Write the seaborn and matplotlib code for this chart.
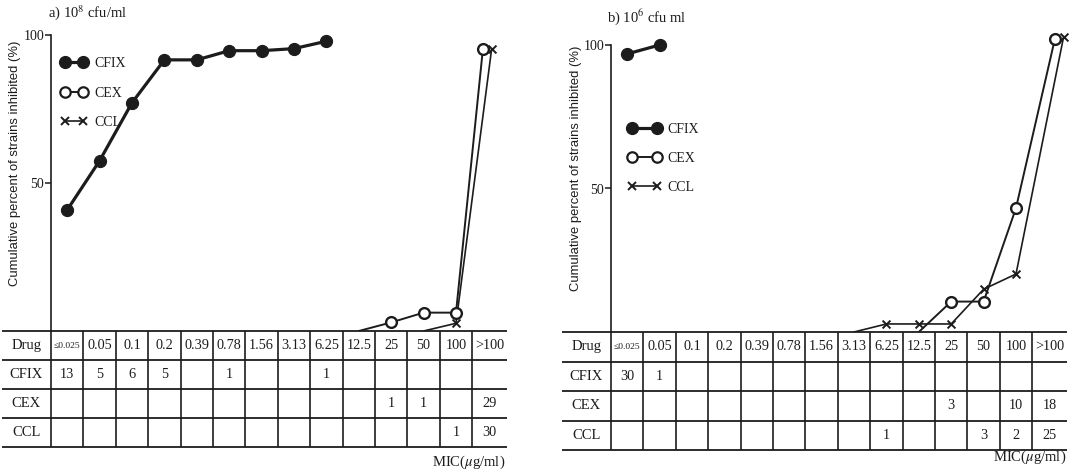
import numpy as np
import pandas as pd
import seaborn as sns
import matplotlib.pyplot as plt
from matplotlib.lines import Line2D

sns.set_style("white")
plt.rcParams['font.family'] = ['Liberation Serif', 'DejaVu Serif']
plt.rcParams['mathtext.fontset'] = 'stix'

INK = '#1c1c1c'
W, H = 1078, 472

mic = ["≤0.025", "0.05", "0.1", "0.2", "0.39", "0.78", "1.56", "3.13",
       "6.25", "12.5", "25", "50", "100", ">100"]
drugs = ["CFIX", "CEX", "CCL"]

# a) 10^8 cfu/ml : cumulative % (x = MIC column index)
a_cfix_x = [0, 1, 2, 3, 4, 5, 6, 7, 8]
a_cfix_y = [40.9, 57.5, 77.1, 91.6, 91.6, 94.7, 94.7, 95.4, 97.9]
a_cex_x = [9, 10, 11, 12, 13]
a_cex_y = [0, 2.9, 6.2, 6.2, 95.3]
a_ccl_x = [11, 12, 13]
a_ccl_y = [0, 2.6, 95.3]
# number of strains per MIC
a_cfix_n = [13, 5, 6, 5, None, 1, None, None, 1, None, None, None, None, None]
a_cex_n = [None] * 10 + [1, 1, None, 29]
a_ccl_n = [None] * 12 + [1, 30]

# b) 10^6 cfu/ml
b_cfix_x = [0, 1]
b_cfix_y = [96.9, 100]
b_cex_x = [9, 10, 11, 12, 13]
b_cex_y = [0, 10.6, 10.6, 43.2, 102.1]
b_ccl_x = [7, 8, 9, 10, 11, 12, 13]
b_ccl_y = [0, 2.8, 2.8, 2.8, 14.9, 20.2, 102.9]
b_cfix_n = [30, 1] + [None] * 12
b_cex_n = [None] * 10 + [3, None, 10, 18]
b_ccl_n = [None] * 8 + [1, None, None, 3, 2, 25]

XLIM = (-2.012, 13.574)


def fx(p):
    return p / W


def fy(p):
    return 1 - p / H


def draw_panel(fig, xl, xr, y0, ppp, tb_bot, series, counts, nudge, leg):
    ytop = y0 - 105 * ppp
    ax = fig.add_axes([fx(xl), fy(y0), (xr - xl) / W, (y0 - ytop) / H])
    ax.set_xlim(*XLIM)
    ax.set_ylim(0, 105)
    ax.patch.set_alpha(0)

    styles = {
        'CFIX': dict(lw=2.3, m='o', s=76, fc=INK, ew=0.8),
        'CEX': dict(lw=1.4, m='o', s=60, fc='white', ew=1.7),
        'CCL': dict(lw=1.2, m='x', s=32, fc=INK, ew=1.4),
    }
    for name, (xs, ys) in zip(drugs, series):
        xs = list(xs)
        xs[-1] = xs[-1] + nudge.get(name, 0) if xs[-1] == 13 else xs[-1]
        st = styles[name]
        df = pd.DataFrame({'x': xs, 'y': ys})
        sns.lineplot(data=df, x='x', y='y', ax=ax, color=INK, lw=st['lw'],
                     sort=False, errorbar=None, zorder=2)
        pts = df if name == 'CFIX' else df.iloc[1:]
        if st['m'] == 'x':
            sns.scatterplot(data=pts, x='x', y='y', ax=ax, marker='x', s=st['s'],
                            color=INK, linewidth=st['ew'], zorder=3, clip_on=False)
        else:
            sns.scatterplot(data=pts, x='x', y='y', ax=ax, marker='o', s=st['s'],
                            color=st['fc'], edgecolor=INK, linewidth=st['ew'],
                            zorder=3, clip_on=False)

    for s in ['top', 'right', 'bottom']:
        ax.spines[s].set_visible(False)
    ax.spines['left'].set_position(('data', -0.5))
    ax.spines['left'].set_bounds(0, 100)
    ax.spines['left'].set_color(INK)
    ax.spines['left'].set_linewidth(1.2)
    ax.set_xticks([])
    ax.set_yticks([50, 100])
    ax.set_yticklabels(['50', '100'])
    ax.tick_params(axis='y', direction='out', length=4, width=1.1, color=INK,
                   labelsize=10, labelcolor=INK, pad=1, left=True)
    ax.set_xlabel('')
    ax.set_ylabel('')

    handles = [
        Line2D([], [], color=INK, lw=2.3, marker='o', ms=8.5, mfc=INK, mec=INK),
        Line2D([], [], color=INK, lw=1.4, marker='o', ms=7.5, mfc='white', mec=INK, mew=1.6),
        Line2D([], [], color=INK, lw=1.2, marker='x', ms=6, mec=INK, mew=1.4),
    ]
    lx, ly, hl, pad, sp = leg
    ax.legend(handles, drugs, loc='upper left', bbox_to_anchor=(fx(lx), fy(ly)),
              bbox_transform=fig.transFigure, frameon=False, numpoints=2,
              handlelength=hl, handletextpad=pad, labelspacing=sp, borderpad=0,
              borderaxespad=0, fontsize=10, labelcolor=INK)

    # table under the curves
    tb = fig.add_axes([fx(xl), fy(tb_bot), (xr - xl) / W, (tb_bot - y0) / H])
    tb.set_xlim(*XLIM)
    tb.set_ylim(4, 0)
    tb.axis('off')
    tb.hlines([0, 1, 2, 3, 4], XLIM[0], XLIM[1], color=INK, lw=1.3, clip_on=False)
    tb.vlines(np.arange(-0.5, 13), 0, 4, color=INK, lw=1.2, clip_on=False)
    dcx = (XLIM[0] - 0.5) / 2
    tb.text(dcx, 0.5, 'Drug', ha='center', va='center', fontsize=10.5, color=INK)
    for i, lab in enumerate(mic):
        cx = i if i < 13 else (12.5 + XLIM[1]) / 2
        tb.text(cx, 0.5, lab, ha='center', va='center', color=INK,
                fontsize=6.8 if i == 0 else 10.3)
    for r, (name, row) in enumerate(zip(drugs, counts), start=1):
        tb.text(dcx, r + 0.5, name, ha='center', va='center', fontsize=10.5, color=INK)
        for i, v in enumerate(row):
            if v is not None:
                cx = i if i < 13 else (12.5 + XLIM[1]) / 2
                tb.text(cx, r + 0.5, str(v), ha='center', va='center',
                        fontsize=10.3, color=INK)
    return ax


fig = plt.figure(figsize=(W / 100, H / 100), dpi=100)

draw_panel(fig, 2, 507, 331, 2.96, 447,
           [(a_cfix_x, a_cfix_y), (a_cex_x, a_cex_y), (a_ccl_x, a_ccl_y)],
           [a_cfix_n, a_cex_n, a_ccl_n],
           {'CEX': -0.17, 'CCL': 0.1},
           (60.8, 57, 1.9, 0.5, 1.2))
draw_panel(fig, 562, 1067, 332, 2.87, 450,
           [(b_cfix_x, b_cfix_y), (b_cex_x, b_cex_y), (b_ccl_x, b_ccl_y)],
           [b_cfix_n, b_cex_n, b_ccl_n],
           {'CEX': 0.2, 'CCL': 0.47},
           (627.8, 123, 2.4, 0.45, 1.15))

ylab = 'Cumulative percent of strains inhibited (%)'
fig.text(fx(15), fy(163), ylab, rotation=90, ha='center', va='center',
         family=['Liberation Sans', 'DejaVu Sans'], fontsize=9.4, color=INK)
fig.text(fx(576), fy(168), ylab, rotation=90, ha='center', va='center',
         family=['Liberation Sans', 'DejaVu Sans'], fontsize=9.4, color=INK)

fig.text(fx(48), fy(13), 'a) 10$^{8}$ cfu/ml', ha='left', va='center',
         fontsize=10.5, color=INK)
fig.text(fx(607), fy(17), 'b) 10$^{6}$ cfu ml', ha='left', va='center',
         fontsize=10.5, color=INK)

fig.text(fx(505), fy(462), 'MIC($\\mu$g/ml)', ha='right', va='center',
         fontsize=10.5, color=INK)
fig.text(fx(1066), fy(457), 'MIC($\\mu$g/ml)', ha='right', va='center',
         fontsize=10.5, color=INK)

fig.savefig('out.png', dpi=100)
